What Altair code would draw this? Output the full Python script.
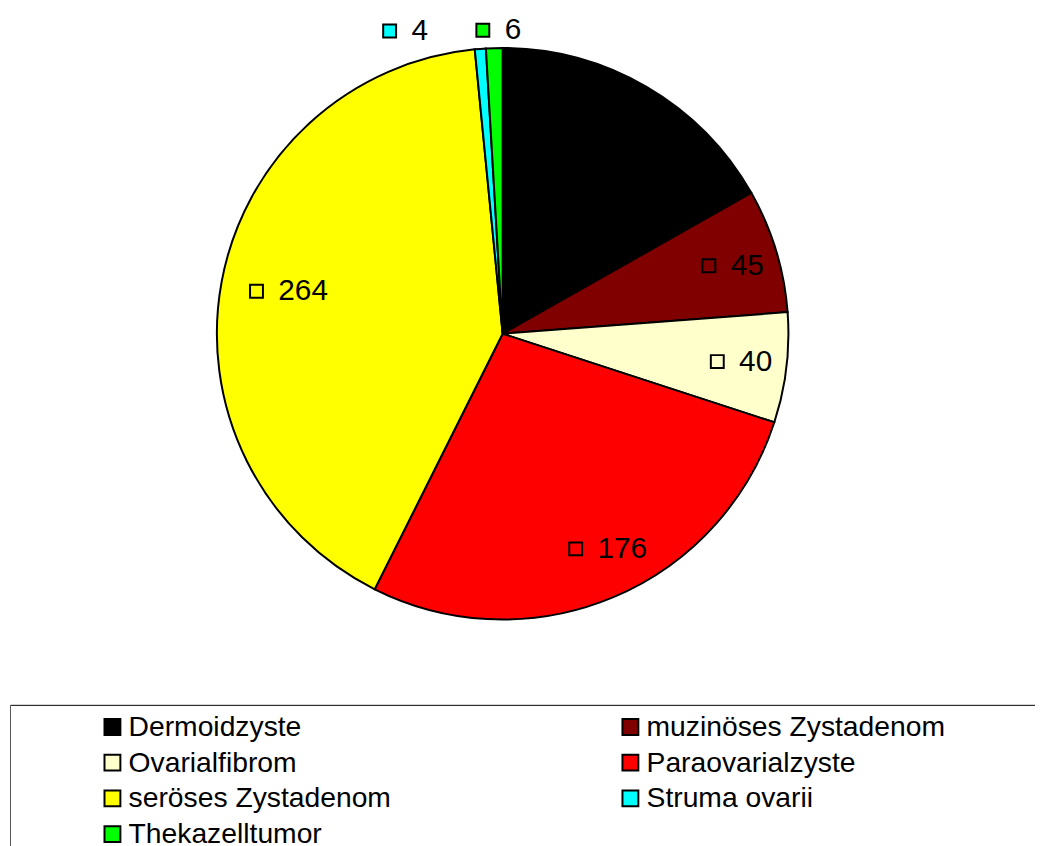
import altair as alt
import pandas as pd

# ---- data ----
categories = [
    "Dermoidzyste",
    "muzinöses Zystadenom",
    "Ovarialfibrom",
    "Paraovarialzyste",
    "seröses Zystadenom",
    "Struma ovarii",
    "Thekazelltumor",
]
counts = [108, 45, 40, 176, 264, 4, 6]
colors = ["#000000", "#800000", "#FFFFCC", "#FF0000", "#FFFF00", "#00FFFF", "#00FF00"]

df = pd.DataFrame({"category": categories, "count": counts, "idx": list(range(len(categories)))})

# ---- layout / style ----
CX, CY, R = 498.5, 325, 288
R_IN, R_OUT = 235, 306
FONT = "Liberation Sans"
FS_LEG = 28.5
FS_LAB = 30
BOX_X, BOX_Y = 2, 699  # top-left corner of the legend frame (frame runs off the page)

color_scale = alt.Scale(domain=categories, range=colors)

legend = alt.Legend(
    orient="none", legendX=BOX_X, legendY=BOX_Y, columns=2, direction="horizontal",
    title=None,
    symbolType="square", symbolSize=256, symbolStrokeColor="black", symbolStrokeWidth=2,
    symbolOffset=81, labelOffset=2, labelFont=FONT, labelFontSize=FS_LEG, labelColor="black",
    labelLimit=500, rowPadding=7, columnPadding=145, padding=8,
)

pie = alt.Chart(df).mark_arc(outerRadius=R, stroke="black", strokeWidth=2).encode(
    theta=alt.Theta("count:Q", stack=True),
    color=alt.Color("category:N", scale=color_scale, sort=categories, legend=legend),
    order=alt.Order("idx:Q", sort="ascending"),
    x=alt.value(CX),
    y=alt.value(CY),
)

base = (
    alt.Chart(df)
    .transform_joinaggregate(total="sum(count)")
    .transform_window(cum="sum(count)", sort=[alt.SortField("idx", order="ascending")], frame=[None, 0])
    .transform_calculate(mid="(datum.cum - datum.count / 2) / datum.total * 2 * PI")
    .transform_calculate(r=f"datum.count < 10 ? {R_OUT} : {R_IN}")
    .transform_calculate(shift="datum.count < 5 ? -73 : (datum.count < 10 ? 6 : 0)")
    .transform_calculate(px=f"{CX} + datum.r * sin(datum.mid) + datum.shift")
    .transform_calculate(py=f"{CY} - datum.r * cos(datum.mid)")
)

markers = base.mark_square(size=169, stroke="black", strokeWidth=2, opacity=1, xOffset=-17).encode(
    x=alt.X("px:Q", scale=None, axis=None),
    y=alt.Y("py:Q", scale=None, axis=None),
    fill=alt.Fill("category:N", scale=color_scale, legend=None),
)

texts = base.mark_text(align="left", baseline="middle", dx=5, font=FONT, fontSize=FS_LAB, color="black").encode(
    x=alt.X("px:Q", scale=None, axis=None),
    y=alt.Y("py:Q", scale=None, axis=None),
    text=alt.Text("count:Q"),
)

# legend frame: only its top and left edges are inside the page
frame_top = alt.Chart(df.head(1)).mark_rule(color="black", strokeWidth=1).encode(
    x=alt.value(BOX_X + 0.5), x2=alt.value(1200), y=alt.value(BOX_Y + 0.5)
)
frame_left = alt.Chart(df.head(1)).mark_rule(color="#555555", strokeWidth=1).encode(
    x=alt.value(BOX_X + 0.5), y=alt.value(BOX_Y + 0.5), y2=alt.value(1000)
)

chart = (
    alt.layer(pie, markers, texts, frame_top, frame_left)
    .properties(width=1035, height=838, autosize=alt.AutoSizeParams(type="none"), padding=0)
    .configure_view(stroke=None)
)

chart.save("out.html", embed_options={"renderer": "svg", "actions": False})
